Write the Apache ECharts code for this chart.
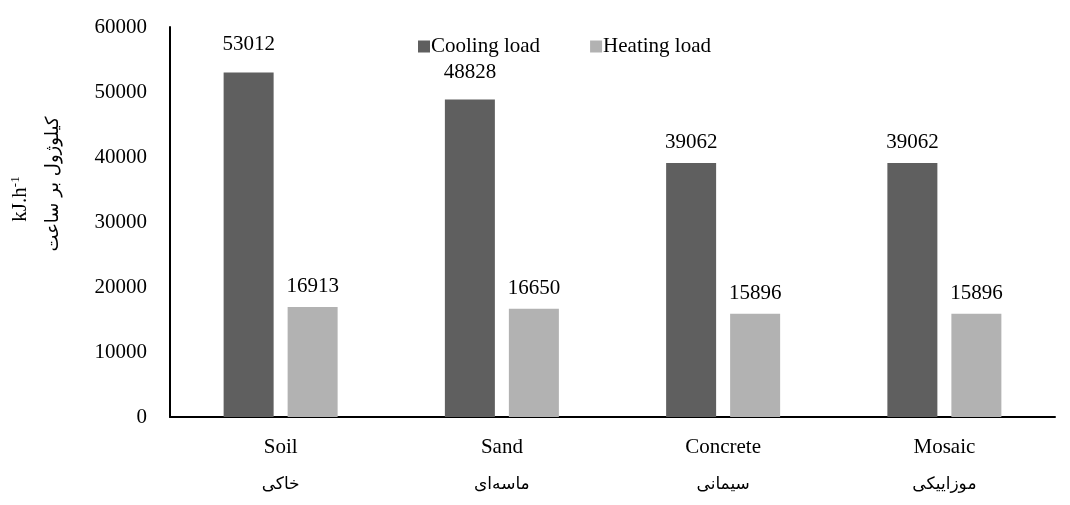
<!DOCTYPE html>
<html>
<head>
<meta charset="utf-8">
<script src="https://cdn.jsdelivr.net/npm/echarts@6/dist/echarts.min.js"></script>
<style>
  html, body { margin: 0; padding: 0; background: #fff; }
  #chart { width: 1070px; height: 505px; }
</style>
</head>
<body>
<div id="chart"></div>
<script>
const categories = ['Soil', 'Sand', 'Concrete', 'Mosaic'];
const categoriesFa = ['خاکی', 'ماسه‌ای', 'سیمانی', 'موزاییکی'];
const coolingLoad = [53012, 48828, 39062, 39062];
const heatingLoad = [16913, 16650, 15896, 15896];
const yTicks = { min: 0, max: 60000, interval: 10000 };

const serif = '"Liberation Serif", "Times New Roman", serif';
const faFont = '"DejaVu Sans", sans-serif';
const chart = echarts.init(document.getElementById('chart'));

const valueLabel = {
  show: true,
  position: 'top',
  distance: 10,
  color: '#000',
  fontFamily: serif,
  fontSize: 21
};

chart.setOption({
  animation: false,
  textStyle: { fontFamily: serif },
  grid: { left: 170, right: 15, top: 27, bottom: 88 },
  legend: {
    top: 31,
    left: 413,
    itemWidth: 12,
    itemHeight: 12,
    itemGap: 50,
    icon: 'rect',
    textStyle: { fontFamily: serif, fontSize: 21, color: '#000', padding: [0, 0, 0, -4] },
    data: ['Cooling load', 'Heating load']
  },
  xAxis: {
    type: 'category',
    data: categories,
    axisLine: { lineStyle: { color: '#000', width: 2 } },
    axisTick: { show: false },
    axisLabel: {
      margin: 11,
      formatter: (v, i) => '{en|' + v + '}\n{fa|' + categoriesFa[i] + '}',
      rich: {
        en: { fontFamily: serif, fontSize: 21, color: '#000', lineHeight: 38 },
        fa: { fontFamily: faFont, fontSize: 17, color: '#000', lineHeight: 38 }
      }
    }
  },
  yAxis: {
    type: 'value',
    min: yTicks.min,
    max: yTicks.max,
    interval: yTicks.interval,
    splitLine: { show: false },
    axisLine: { show: true, lineStyle: { color: '#000', width: 2 } },
    axisTick: { show: false },
    axisLabel: { color: '#000', fontFamily: serif, fontSize: 21, margin: 23, formatter: v => String(v) },
    name: '{en|kJ.h}{sup|-1}\n{fa|کیلوژول بر ساعت}',
    nameLocation: 'middle',
    nameGap: 100,
    nameRotate: 90,
    nameTextStyle: {
      padding: [0, 0, 0, 76],
      rich: {
        en: { fontFamily: serif, fontSize: 21, color: '#000', lineHeight: 33 },
        sup: { fontFamily: serif, fontSize: 13, color: '#000', lineHeight: 33, padding: [0, 30, 10, 0] },
        fa: { fontFamily: faFont, fontSize: 18, color: '#000', lineHeight: 33 }
      }
    }
  },
  series: [
    {
      name: 'Cooling load',
      type: 'bar',
      data: coolingLoad.map((v, i) => (i < 2 ? { value: v, label: { distance: 17 } } : v)),
      barWidth: 50,
      barGap: '28%',
      itemStyle: { color: '#5f5f5f' },
      label: valueLabel
    },
    {
      name: 'Heating load',
      type: 'bar',
      data: heatingLoad,
      barWidth: 50,
      itemStyle: { color: '#b2b2b2' },
      label: valueLabel
    }
  ]
});
</script>
</body>
</html>
